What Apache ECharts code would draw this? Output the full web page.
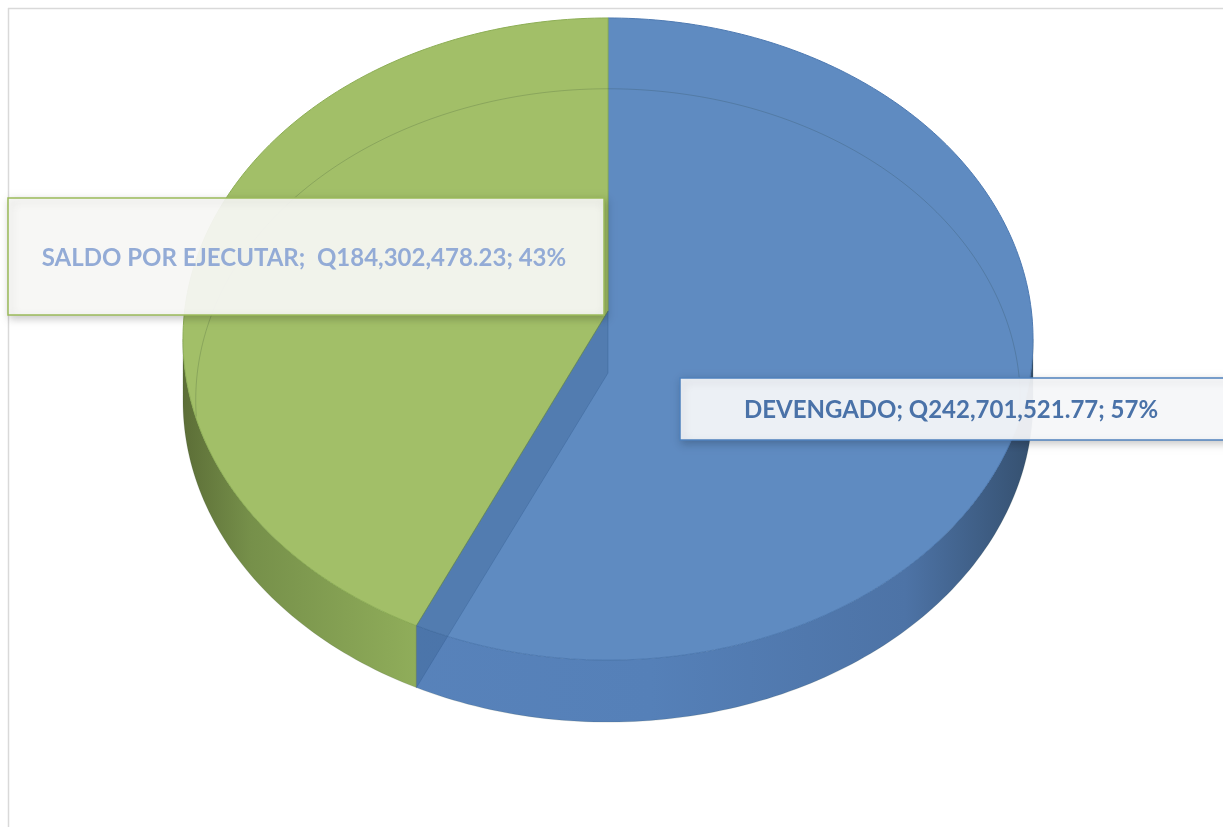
<!DOCTYPE html>
<html><head><meta charset="utf-8">
<script src="https://cdn.jsdelivr.net/npm/echarts@6/dist/echarts.min.js"></script>
<style>html,body{margin:0;padding:0;background:#fff}#c{width:1223px;height:827px}</style>
</head><body><div id="c"></div>
<script>
// ---- data ----
const categories = ['DEVENGADO', 'SALDO POR EJECUTAR'];
const values = [242701521.77, 184302478.23];

// ---- styles / layout ----
const topColors = ['#5F8BC1', '#A2BF68'];
const topStrokes = ['#4E7AB2', '#8DAE55'];
const sideStops = [
  [[0, '#5A84BC'], [0.55, '#5580B8'], [0.85, '#4D73A6'], [1, '#35506F']],
  [[0, '#5C6E37'], [0.08, '#76904A'], [0.3, '#93B15C'], [1, '#9BBB62']]
];
const labelCfg = [
  {x: 680, y: 378, w: 570, h: 62, fill: 'rgba(249,250,252,0.93)', stroke: '#4F81BD', color: '#4A72A8', tx: 951, ty: 410, sep: '; '},
  {x: 8, y: 198, w: 596, h: 117, fill: 'rgba(251,251,249,0.92)', stroke: '#9BBB59', color: '#93ABD6', tx: 304, ty: 258, sep: ';  '}
];
const G = {cx: 608, cy: 311, A: 423.4, B: 318.6, k: 0.0873, d: 62};
const total = values.reduce((a, b) => a + b, 0);
const DEG = Math.PI / 180;

function P(t, h, s) {
  s = s || 1;
  const u = Math.cos(t), v = Math.sin(t), w = 1 + G.k * v;
  return [G.cx + G.A * s * u / w, G.cy - G.B * s * v / w + h];
}
function arcPts(a0, a1, h, s) {
  const n = Math.max(2, Math.ceil(Math.abs(a1 - a0) / DEG));
  const pts = [];
  for (let i = 0; i <= n; i++) pts.push(P(a0 + (a1 - a0) * i / n, h, s));
  return pts;
}
function sliceAngles(i) {
  let cum = 0;
  for (let j = 0; j < i; j++) cum += values[j];
  const start = Math.PI / 2 - 2 * Math.PI * cum / total;
  const end = start - 2 * Math.PI * values[i] / total;
  return [end, start];
}
function intersect(lo, hi, rlo, rhi) {
  const out = [];
  for (const off of [-2 * Math.PI, 0, 2 * Math.PI]) {
    const a = Math.max(lo + off, rlo), b = Math.min(hi + off, rhi);
    if (b > a) out.push([a, b]);
  }
  return out;
}
function fmt(v) {
  return 'Q' + v.toLocaleString('en-US', {minimumFractionDigits: 2, maximumFractionDigits: 2});
}

function renderItem(params, api) {
  const i = params.dataIndex;
  const val = api.value(0);
  const [lo, hi] = sliceAngles(i);
  const children = [];
  const sil = Math.asin(G.k);
  // side wall (front, visible part)
  intersect(lo, hi, -Math.PI + sil, -sil).forEach(([a, b]) => {
    const pts = arcPts(a, b, 0).concat(arcPts(b, a, G.d));
    children.push({
      type: 'polygon', z2: 1,
      shape: {points: pts},
      style: {
        fill: {type: 'linear', x: 183, y: 0, x2: 1033, y2: 0, global: true,
          colorStops: sideStops[i].map(s => ({offset: s[0], color: s[1]}))},
        stroke: 'rgba(40,60,40,0.25)', lineWidth: 0.6
      }
    });
  });
  // top face
  const topPts = [[G.cx, G.cy]].concat(arcPts(hi, lo, 0));
  children.push({
    type: 'polygon', z2: 2,
    shape: {points: topPts},
    style: {fill: topColors[i], stroke: topStrokes[i], lineWidth: 1}
  });
  // faint outline of the bottom face seen through the top
  intersect(lo, hi, -8 * DEG, 188 * DEG).forEach(([a, b]) => {
    children.push({
      type: 'polyline', z2: 3,
      shape: {points: arcPts(a, b, G.d, 0.97)},
      style: {fill: null, stroke: 'rgba(30,50,40,0.18)', lineWidth: 1}
    });
  });
  // radial wall seen through the translucent top at the slice's end boundary
  const bt = lo;
  if (Math.sin(bt) < 0) {
    children.push({
      type: 'polygon', z2: 4,
      shape: {points: [[G.cx, G.cy], P(bt, 0), P(bt, G.d), [G.cx, G.cy + G.d]]},
      style: {fill: 'rgba(20,55,95,0.17)', stroke: 'rgba(40,80,130,0.35)', lineWidth: 0.8}
    });
  }
  // label
  const L = labelCfg[i];
  const pct = Math.round(val / total * 100);
  children.push({
    type: 'rect', z2: 10,
    shape: {x: L.x, y: L.y, width: L.w, height: L.h},
    style: {fill: L.fill, stroke: L.stroke, lineWidth: 1.5,
      shadowBlur: 8, shadowColor: 'rgba(0,0,0,0.22)', shadowOffsetX: 2, shadowOffsetY: 3}
  });
  children.push({
    type: 'text', z2: 11,
    style: {
      text: categories[i] + L.sep + fmt(val) + '; ' + pct + '%',
      x: L.tx, y: L.ty, align: 'center', verticalAlign: 'middle',
      fill: L.color, fontSize: 24, fontWeight: 'bold', fontFamily: 'Lato'
    }
  });
  return {type: 'group', children: children};
}

const chart = echarts.init(document.getElementById('c'), null, {renderer: 'canvas'});
chart.setOption({
  animation: false,
  backgroundColor: '#ffffff',
  graphic: [
    {type: 'line', shape: {x1: 8, y1: 8.5, x2: 1223, y2: 8.5}, style: {stroke: '#D9D9D9', lineWidth: 1.5}, z: -1},
    {type: 'line', shape: {x1: 8.5, y1: 8, x2: 8.5, y2: 827}, style: {stroke: '#D9D9D9', lineWidth: 1.5}, z: -1}
  ],
  series: [{
    type: 'custom',
    coordinateSystem: 'none',
    renderItem: renderItem,
    data: values.map((v, i) => ({name: categories[i], value: [v]}))
  }]
});
</script>
</body></html>
